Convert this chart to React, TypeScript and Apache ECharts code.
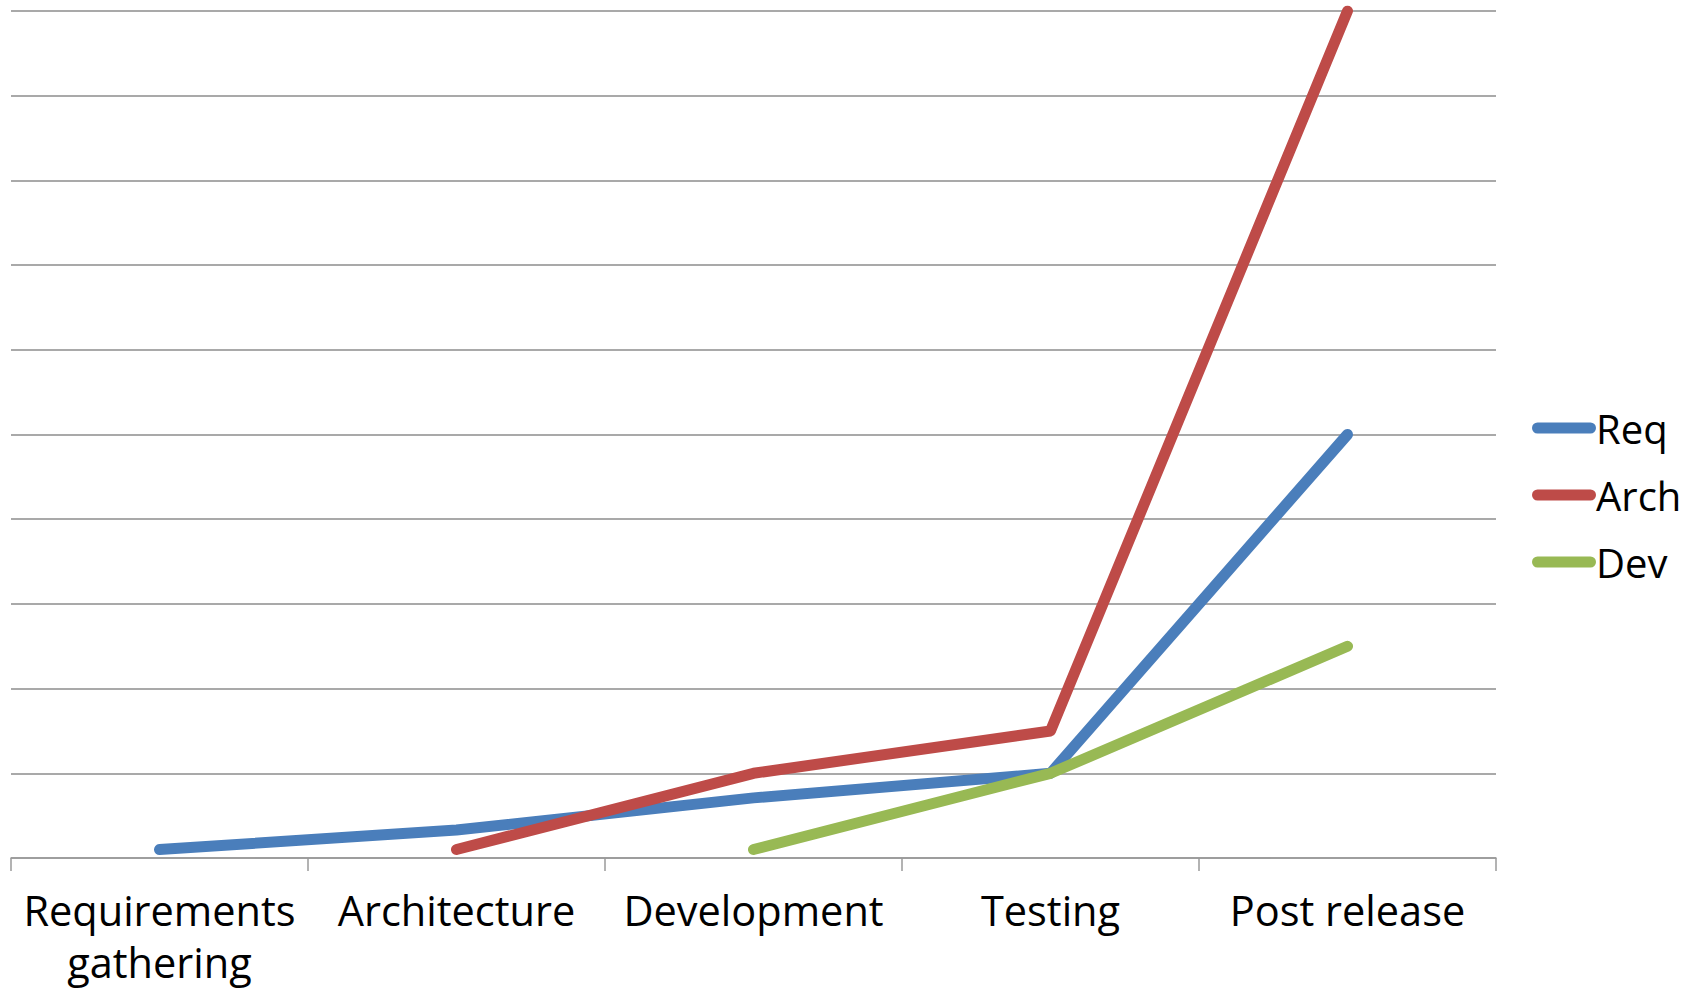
import React, { useEffect, useRef } from "react";
import * as echarts from "echarts";

const categories = ["Requirements\ngathering", "Architecture", "Development", "Testing", "Post release"];
const reqValues = [0.1, 0.33, 0.71, 1.0, 5.0];
const archValues: (number | string)[] = ["-", 0.1, 1.0, 1.5, 10];
const devValues: (number | string)[] = ["-", "-", 0.1, 1.0, 2.5];
const seriesNames = ["Req", "Arch", "Dev"];
const colors = ["#4A7EBB", "#BE4B48", "#98B954"];

const capsule = "path://M5.5,0 L58.5,0 A5.5,5.5 0 0 1 58.5,11 L5.5,11 A5.5,5.5 0 0 1 5.5,0 Z";

export default function App() {
  const ref = useRef<HTMLDivElement>(null);
  useEffect(() => {
    if (!ref.current) return;
    const chart = echarts.init(ref.current, null, { renderer: "svg" });
    const font = "'Open Sans', 'Noto Sans', sans-serif";
    const mk = (name: string, data: any[], color: string) => ({
      name,
      type: "line",
      data,
      symbol: "none",
      showSymbol: false,
      lineStyle: { width: 11, color, cap: "round", join: "round" },
      itemStyle: { color },
    });
    chart.setOption({
      animation: false,
      backgroundColor: "#ffffff",
      grid: { left: 11, right: 194, top: 11, bottom: 132, outerBoundsMode: "none", containLabel: false },
      legend: {
        orient: "vertical",
        left: 1527,
        top: 398,
        itemWidth: 64,
        itemHeight: 11,
        itemGap: 17,
        icon: capsule,
        textStyle: { fontFamily: font, fontSize: 40, lineHeight: 50, color: "#000", padding: [0, 0, 0, -5] },
        data: seriesNames,
      },
      xAxis: {
        type: "category",
        data: categories,
        boundaryGap: true,
        axisLine: { lineStyle: { color: "#9a9a9a", width: 1.5 } },
        axisTick: { show: true, length: 13, lineStyle: { color: "#9a9a9a", width: 1.5 } },
        axisLabel: {
          interval: 0,
          margin: 26,
          fontFamily: font,
          fontSize: 41.5,
          lineHeight: 52,
          color: "#000",
        },
        splitLine: { show: false },
      },
      yAxis: {
        type: "value",
        min: 0,
        max: 10,
        interval: 1,
        axisLabel: { show: false },
        axisLine: { show: false },
        axisTick: { show: false },
        splitLine: { lineStyle: { color: "#8c8c8c", width: 1.5 } },
      },
      series: [
        mk(seriesNames[0], reqValues, colors[0]),
        mk(seriesNames[1], archValues, colors[1]),
        mk(seriesNames[2], devValues, colors[2]),
      ],
    });
    return () => chart.dispose();
  }, []);
  return <div ref={ref} style={{ position: "fixed", left: 0, top: 0, width: 1690, height: 990 }} />;
}
